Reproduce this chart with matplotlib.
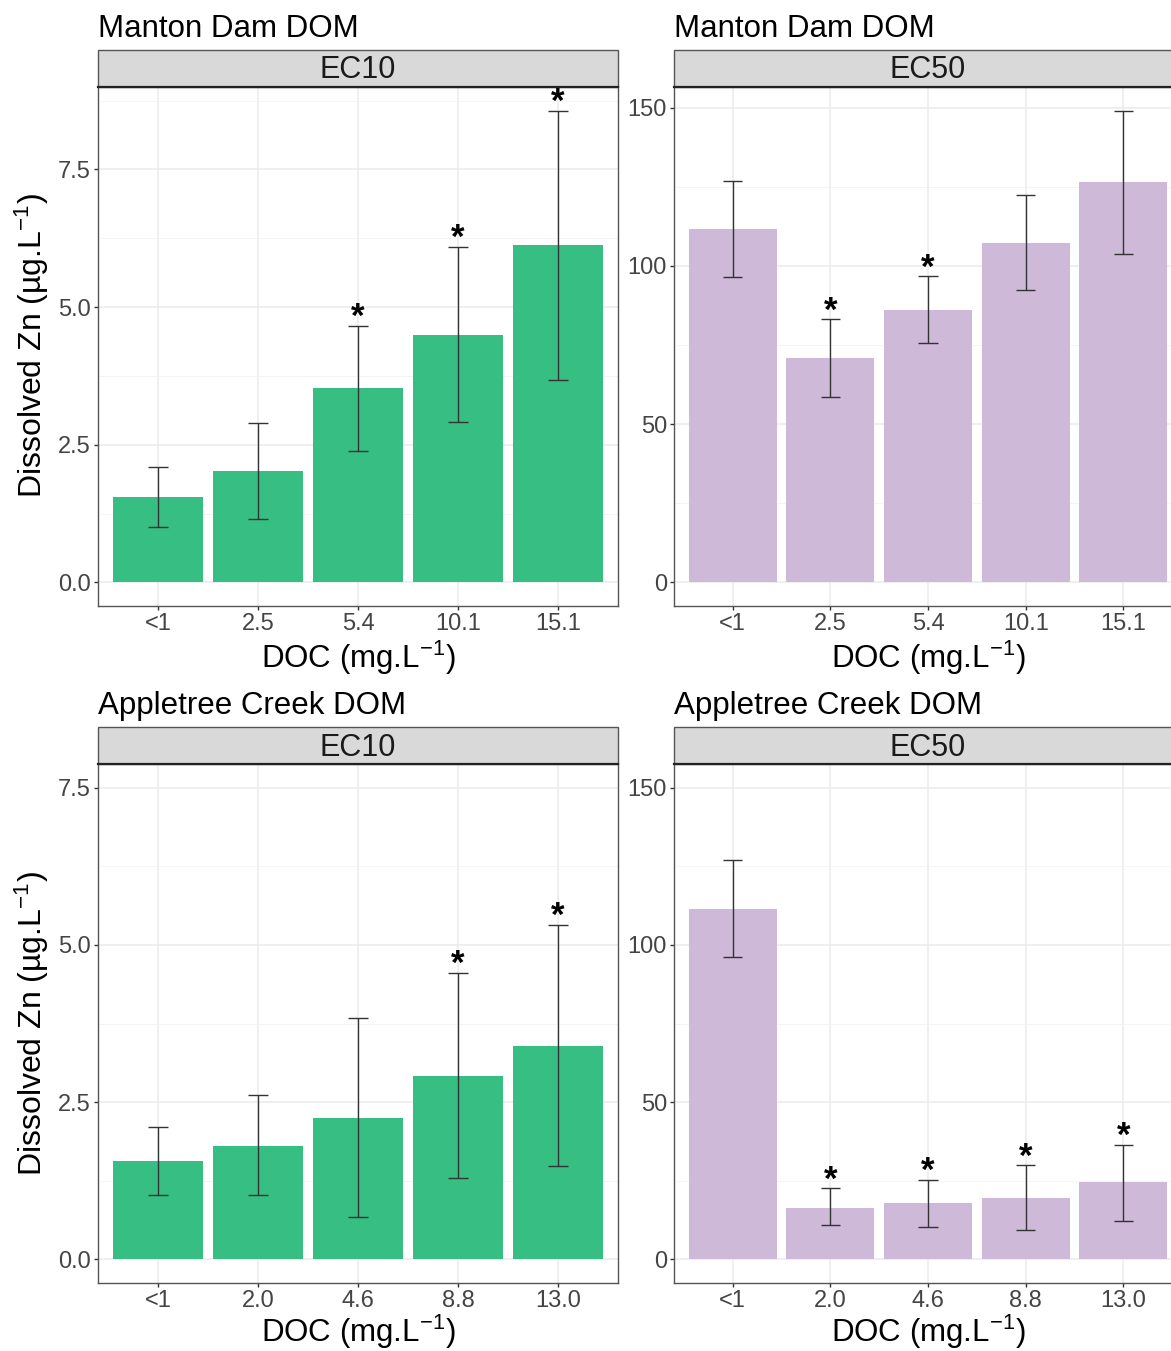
import numpy as np
import matplotlib
matplotlib.use("Agg")
import matplotlib.pyplot as plt
from matplotlib.patches import Rectangle

plt.rcParams['font.family'] = ['Liberation Sans', 'DejaVu Sans']
plt.rcParams['mathtext.fontset'] = 'custom'
plt.rcParams['mathtext.rm'] = 'Liberation Sans'
plt.rcParams['mathtext.it'] = 'Liberation Sans'

# Manton Dam DOM
md_doc = ['<1', '2.5', '5.4', '10.1', '15.1']
md_ec10_mean = [1.56, 2.03, 3.53, 4.49, 6.12]
md_ec10_lo = [1.01, 1.16, 2.39, 2.92, 3.68]
md_ec10_hi = [2.10, 2.90, 4.66, 6.10, 8.57]
md_ec10_sig = [False, False, True, True, True]
md_ec50_mean = [111.6, 70.9, 86.0, 107.2, 126.4]
md_ec50_lo = [96.4, 58.6, 75.6, 92.3, 103.7]
md_ec50_hi = [127.0, 83.2, 96.8, 122.3, 149.1]
md_ec50_sig = [False, True, True, False, False]

# Appletree Creek DOM
ac_doc = ['<1', '2.0', '4.6', '8.8', '13.0']
ac_ec10_mean = [1.56, 1.80, 2.24, 2.92, 3.40]
ac_ec10_lo = [1.03, 1.02, 0.67, 1.30, 1.49]
ac_ec10_hi = [2.10, 2.62, 3.83, 4.56, 5.32]
ac_ec10_sig = [False, False, False, True, True]
ac_ec50_mean = [111.5, 16.5, 17.8, 19.4, 24.5]
ac_ec50_lo = [96.3, 10.8, 10.2, 9.5, 12.1]
ac_ec50_hi = [127.1, 22.6, 25.4, 29.9, 36.5]
ac_ec50_sig = [False, True, True, True, True]

green = '#37BE83'
purple = '#CEB9D9'
W, H = 1171, 1351


def panel(rect, site, strip, cats, mean, lo, hi, sig, color, ylim, major, minor, fmt,
          xpad=3):
    ax = fig.add_axes(rect)
    x = np.arange(1, len(cats) + 1)
    ax.bar(x, mean, width=0.9, color=color, zorder=2)
    ax.vlines(x, lo, hi, color='#333333', lw=1.0, zorder=3)
    ax.hlines(lo, x - 0.1, x + 0.1, color='#333333', lw=1.0, zorder=3)
    ax.hlines(hi, x - 0.1, x + 0.1, color='#333333', lw=1.0, zorder=3)
    for xi, h, s in zip(x, hi, sig):
        if s:
            ax.annotate('*', (xi, h), xytext=(0, -6), textcoords='offset points',
                        ha='center', va='bottom', fontsize=25, fontweight='bold',
                        zorder=4)
    ax.set_xlim(0.4, len(cats) + 0.6)
    ax.set_ylim(*ylim)
    ax.set_xticks(x)
    ax.set_xticklabels(cats)
    ax.set_yticks(major)
    ax.set_yticklabels([fmt.format(v) for v in major])
    ax.set_yticks(minor, minor=True)
    ax.tick_params(axis='both', which='major', labelsize=17, labelcolor='#444444',
                   color='#333333', length=3, width=1, pad=2)
    ax.tick_params(axis='y', which='minor', length=0)
    ax.grid(True, which='major', color='#EBEBEB', lw=1.1, zorder=0)
    ax.grid(True, which='minor', axis='y', color='#F2F2F2', lw=0.6, zorder=0)
    ax.set_axisbelow(True)
    for sp in ax.spines.values():
        sp.set_color('#555555')
        sp.set_linewidth(1.0)
    ax.spines['top'].set_color('#222222')
    ax.spines['top'].set_linewidth(1.6)
    ax.set_xlabel(r'DOC (mg.L$^{-1}$)', fontsize=22.5, labelpad=xpad)
    # facet strip
    px = rect[3] * H
    sh = 37 / px
    ax.add_patch(Rectangle((0, 1), 1, sh, transform=ax.transAxes, clip_on=False,
                           facecolor='#D9D9D9', edgecolor='#555555', lw=1.0, zorder=1))
    ax.text(0.5, 1 + sh / 2 - 2 / px, strip, transform=ax.transAxes, ha='center',
            va='center', fontsize=22, color='#1A1A1A')
    ax.text(0, 1 + sh + 21 / px, site, transform=ax.transAxes, ha='left',
            va='center', fontsize=22.5)
    return ax


fig = plt.figure(figsize=(W / 100, H / 100), dpi=100)

lw_ = 520 / W
rw_ = 508 / W
ph = 519 / H
top_b = 1 - 606 / H
bot_b = 1 - 1283 / H

panel([98 / W, top_b, lw_, ph], 'Manton Dam DOM', 'EC10', md_doc,
      md_ec10_mean, md_ec10_lo, md_ec10_hi, md_ec10_sig, green,
      (-0.4285, 8.9985), [0, 2.5, 5, 7.5], [1.25, 3.75, 6.25, 8.75], '{:.1f}')
panel([674 / W, top_b, rw_, ph], 'Manton Dam DOM', 'EC50', md_doc,
      md_ec50_mean, md_ec50_lo, md_ec50_hi, md_ec50_sig, purple,
      (-7.455, 156.56), [0, 50, 100, 150], [25, 75, 125], '{:.0f}')
panel([98 / W, bot_b, lw_, ph], 'Appletree Creek DOM', 'EC10', ac_doc,
      ac_ec10_mean, ac_ec10_lo, ac_ec10_hi, ac_ec10_sig, green,
      (-0.375, 7.875), [0, 2.5, 5, 7.5], [1.25, 3.75, 6.25], '{:.1f}', xpad=0.5)
panel([674 / W, bot_b, rw_, ph], 'Appletree Creek DOM', 'EC50', ac_doc,
      ac_ec50_mean, ac_ec50_lo, ac_ec50_hi, ac_ec50_sig, purple,
      (-7.5, 157.5), [0, 50, 100, 150], [25, 75, 125], '{:.0f}', xpad=0.5)

fig.text(32 / W, 1 - 346 / H, r'Dissolved Zn (µg.L$^{-1}$)', rotation=90,
         ha='center', va='center', fontsize=23)
fig.text(32 / W, 1 - 1024 / H, r'Dissolved Zn (µg.L$^{-1}$)', rotation=90,
         ha='center', va='center', fontsize=23)

fig.savefig('out.png', dpi=100)
